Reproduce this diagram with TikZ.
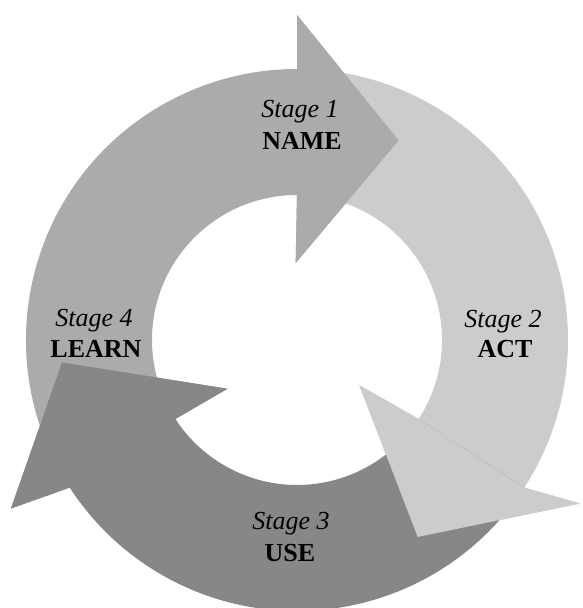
\documentclass[tikz,border=0pt]{standalone}
\usepackage{fontspec}
\setmainfont{Liberation Serif}
\definecolor{gmid}{gray}{0.67}
\definecolor{glight}{gray}{0.80}
\definecolor{gdark}{gray}{0.53}
\begin{document}
\begin{tikzpicture}[x=1pt,y=1pt,
  stagelbl/.style={font=\fontsize{26}{30}\selectfont\itshape, anchor=base, inner sep=0pt},
  namelbl/.style={font=\fontsize{26}{30}\selectfont\bfseries, anchor=base, inner sep=0pt}]
\useasboundingbox (0,0) rectangle (582,608);
\fill[white] (0,0) rectangle (582,608);
\coordinate (C) at (297,268);
\def\Ro{271}\def\Ri{145}
% tail / base / outer barb / inner barb / tip / colour
\begin{scope}[shift={(C)}]
  \foreach \ta/\ba/\ob/\ib/\tp/\col in {
      213/90/{90:325}/{91:77}/{63:224}/gmid,
      90/-33/{-30:327}/{-36:77}/{-58.5:231}/glight,
      -33/-147/{210.5:332}/{215:85}/{185.5:236}/gdark}{
    \fill[\col] (\ta:\Ro) arc[start angle=\ta,end angle=\ba,radius=\Ro]
      -- (\ob) -- (\tp) -- (\ib) -- (\ba:\Ri)
      arc[start angle=\ba,end angle=\ta,radius=\Ri] -- cycle;
  }
  \foreach \ba/\ob/\ib/\tp/\col in {
      90/{90:325}/{91:77}/{63:224}/gmid,
      -33/{-30:327}/{-36:77}/{-58.5:231}/glight,
      -147/{210.5:332}/{215:85}/{185.5:236}/gdark}{
    \fill[\col] (\ba:\Ro) -- (\ob) -- (\tp) -- (\ib) -- (\ba:\Ri) -- cycle;
  }
\end{scope}
\node[stagelbl] (s1) at (300,490) {Stage 1};
\node[namelbl]  (n1) at (302,458) {NAME};
\node[stagelbl] (s2) at (503,280) {Stage 2};
\node[namelbl]  (n2) at (505,250) {ACT};
\node[stagelbl] (s3) at (291,78) {Stage 3};
\node[namelbl]  (n3) at (290,46) {USE};
\node[stagelbl] (s4) at (94,281) {Stage 4};
\node[namelbl]  (n4) at (96,250) {LEARN};
\end{tikzpicture}
\end{document}
